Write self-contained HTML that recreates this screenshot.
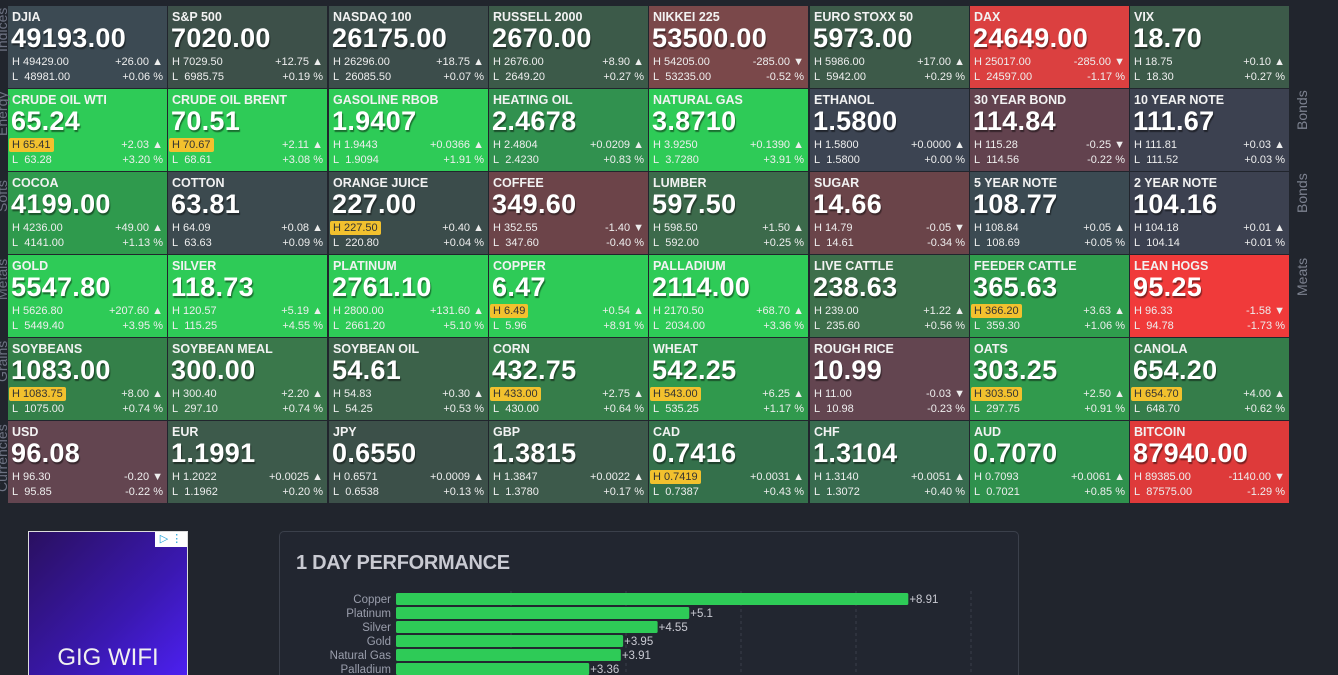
<!DOCTYPE html>
<html><head><meta charset="utf-8">
<style>
html,body{margin:0;padding:0;overflow:hidden;}
body{width:1338px;height:675px;background:#21252d;position:relative;overflow:hidden;font-family:"Liberation Sans",Arial,sans-serif;color:#fff;}
.tile{position:absolute;width:159px;height:82px;box-sizing:border-box;}
.nm{position:absolute;left:4px;top:4px;font-size:12.5px;font-weight:bold;color:#f2f2f2;white-space:nowrap;}
.pr{position:absolute;left:3px;top:19px;font-size:27px;line-height:27px;font-weight:bold;text-shadow:1px 2px 1px rgba(0,0,0,.45);letter-spacing:0.3px;}
.hl,.ll{position:absolute;left:4px;font-size:11px;color:#eee;}
.hl{top:50px}.ll{top:65px}
.hl.hi{background:#f2c12e;color:#333;left:1px;padding:0 3px;border-radius:2px;top:49px;line-height:14px}
.ch,.pc{position:absolute;right:4px;font-size:11px;color:#eee;}
.ch{top:50px}.pc{top:65px}
.lab{position:absolute;transform:rotate(-90deg);transform-origin:left top;color:#6d7282;font-size:14px;white-space:nowrap;}
</style></head><body>
<div id="grid"></div>
<div class="lab" style="left:-6px;top:52px">Indices</div>
<div class="lab" style="left:-6px;top:136px">Energy</div>
<div class="lab" style="left:-6px;top:212px">Softs</div>
<div class="lab" style="left:-6px;top:300px">Metals</div>
<div class="lab" style="left:-6px;top:382px">Grains</div>
<div class="lab" style="left:-6px;top:492px">Currencies</div>
<div class="lab" style="left:1294px;top:130px;color:#7d8290">Bonds</div>
<div class="lab" style="left:1294px;top:213px;color:#7d8290">Bonds</div>
<div class="lab" style="left:1294px;top:296px;color:#7d8290">Meats</div>

<div style="position:absolute;left:28px;top:531px;width:160px;height:144px;background:linear-gradient(135deg,#2a1060 0%,#3a18b0 60%,#4c20f0 100%);border:1px solid #ddd;border-bottom:none;box-sizing:border-box;">
 <div style="position:absolute;right:0;top:0;width:32px;height:15px;background:#fff;color:#1aa0d8;font-size:11px;text-align:center;line-height:15px">▷ ⋮</div>
 <div style="position:absolute;left:0;right:0;top:112px;text-align:center;font-size:24px;color:#f0f0f0">GIG WIFI</div>
</div>

<div style="position:absolute;left:279px;top:531px;width:740px;height:144px;border:1px solid #3b404b;border-bottom:none;border-radius:5px 5px 0 0;box-sizing:border-box;background:#222630;">
 <div style="position:absolute;left:16px;top:20px;font-size:20px;font-weight:bold;color:#c9cad2;letter-spacing:-0.3px">1 DAY PERFORMANCE</div>
</div>
<svg id="chart" width="1338" height="675" style="position:absolute;left:0;top:0"></svg>

<script>
const tiles=[
["DJIA","49193.00","49429.00","48981.00","+26.00","+0.06","#3c4a53",0],
["S&P 500","7020.00","7029.50","6985.75","+12.75","+0.19","#3d5049",0],
["NASDAQ 100","26175.00","26296.00","26085.50","+18.75","+0.07","#3c4d4b",0],
["RUSSELL 2000","2670.00","2676.00","2649.20","+8.90","+0.27","#3c5a49",0],
["NIKKEI 225","53500.00","54205.00","53235.00","-285.00","-0.52","#7a484a",0],
["EURO STOXX 50","5973.00","5986.00","5942.00","+17.00","+0.29","#3d5a49",0],
["DAX","24649.00","25017.00","24597.00","-285.00","-1.17","#db4040",0],
["VIX","18.70","18.75","18.30","+0.10","+0.27","#3c5a49",0],
["CRUDE OIL WTI","65.24","65.41","63.28","+2.03","+3.20","#2ecb57",1],
["CRUDE OIL BRENT","70.51","70.67","68.61","+2.11","+3.08","#2ecb57",1],
["GASOLINE RBOB","1.9407","1.9443","1.9094","+0.0366","+1.91","#2ecb57",0],
["HEATING OIL","2.4678","2.4804","2.4230","+0.0209","+0.83","#31914f",0],
["NATURAL GAS","3.8710","3.9250","3.7280","+0.1390","+3.91","#2ecb57",0],
["ETHANOL","1.5800","1.5800","1.5800","+0.0000","+0.00","#3c4452",0],
["30 YEAR BOND","114.84","115.28","114.56","-0.25","-0.22","#62424e",0],
["10 YEAR NOTE","111.67","111.81","111.52","+0.03","+0.03","#3c4150",0],
["COCOA","4199.00","4236.00","4141.00","+49.00","+1.13","#2f9a4d",0],
["COTTON","63.81","64.09","63.63","+0.08","+0.09","#3c4a4f",0],
["ORANGE JUICE","227.00","227.50","220.80","+0.40","+0.04","#3b4c4b",1],
["COFFEE","349.60","352.55","347.60","-1.40","-0.40","#6c4449",0],
["LUMBER","597.50","598.50","592.00","+1.50","+0.25","#3c6a4b",0],
["SUGAR","14.66","14.79","14.61","-0.05","-0.34","#6a4449",0],
["5 YEAR NOTE","108.77","108.84","108.69","+0.05","+0.05","#3b4a52",0],
["2 YEAR NOTE","104.16","104.18","104.14","+0.01","+0.01","#3c4150",0],
["GOLD","5547.80","5626.80","5449.40","+207.60","+3.95","#2ecb57",0],
["SILVER","118.73","120.57","115.25","+5.19","+4.55","#2ecb57",0],
["PLATINUM","2761.10","2800.00","2661.20","+131.60","+5.10","#2ecb57",0],
["COPPER","6.47","6.49","5.96","+0.54","+8.91","#2ecb57",1],
["PALLADIUM","2114.00","2170.50","2034.00","+68.70","+3.36","#2ecb57",0],
["LIVE CATTLE","238.63","239.00","235.60","+1.22","+0.56","#3d6f4b",0],
["FEEDER CATTLE","365.63","366.20","359.30","+3.63","+1.06","#2f9d4d",1],
["LEAN HOGS","95.25","96.33","94.78","-1.58","-1.73","#f03a3a",0],
["SOYBEANS","1083.00","1083.75","1075.00","+8.00","+0.74","#348049",1],
["SOYBEAN MEAL","300.00","300.40","297.10","+2.20","+0.74","#3a784b",0],
["SOYBEAN OIL","54.61","54.83","54.25","+0.30","+0.53","#3c624a",0],
["CORN","432.75","433.00","430.00","+2.75","+0.64","#367d4a",1],
["WHEAT","542.25","543.00","535.25","+6.25","+1.17","#30994d",1],
["ROUGH RICE","10.99","11.00","10.98","-0.03","-0.23","#634550",0],
["OATS","303.25","303.50","297.75","+2.50","+0.91","#319a4d",1],
["CANOLA","654.20","654.70","648.70","+4.00","+0.62","#357d4a",1],
["USD","96.08","96.30","95.85","-0.20","-0.22","#634550",0],
["EUR","1.1991","1.2022","1.1962","+0.0025","+0.20","#3d5a4b",0],
["JPY","0.6550","0.6571","0.6538","+0.0009","+0.13","#3c5049",0],
["GBP","1.3815","1.3847","1.3780","+0.0022","+0.17","#3d5a4b",0],
["CAD","0.7416","0.7419","0.7387","+0.0031","+0.43","#34704b",1],
["CHF","1.3104","1.3140","1.3072","+0.0051","+0.40","#386b4f",0],
["AUD","0.7070","0.7093","0.7021","+0.0061","+0.85","#2f914d",0],
["BITCOIN","87940.00","89385.00","87575.00","-1140.00","-1.29","#de3a3a",0]
];
const grid=document.getElementById('grid');
tiles.forEach((t,i)=>{
  const c=i%8,r=Math.floor(i/8);
  const d=document.createElement('div');
  d.className='tile';
  
  
  d.style.left=Math.round(8+c*160.3)+'px';d.style.top=(6+r*83)+'px';d.style.background=t[6];
  const up=t[4][0]!=='-';
  d.innerHTML='<div class="nm">'+t[0]+'</div><div class="pr">'+t[1]+'</div>'+
   '<div class="hl'+(t[7]?' hi':'')+'">H '+t[2]+'</div><div class="ll">L&nbsp; '+t[3]+'</div>'+
   '<div class="ch">'+t[4]+(up?' ▲':' ▼')+'</div><div class="pc">'+t[5]+' %</div>';
  grid.appendChild(d);
});

const cats=["Copper","Platinum","Silver","Gold","Natural Gas","Palladium"];
const vals=[8.91,5.1,4.55,3.95,3.91,3.36];
const labels=["+8.91","+5.1","+4.55","+3.95","+3.91","+3.36"];
const ticks=[0,2,4,6,8,10];
const svg=document.getElementById('chart');
const NS='http://www.w3.org/2000/svg';
const x=v=>396+v*57.5;
const y=i=>593+i*14;
ticks.forEach(t=>{if(t===0)return;
  const l=document.createElementNS(NS,'line');
  
  
  l.setAttribute('x1',x(t));l.setAttribute('x2',x(t));l.setAttribute('y1',591);l.setAttribute('y2',675);
  l.setAttribute('stroke','#3a3f4a');l.setAttribute('stroke-dasharray','3,3');svg.appendChild(l);});
cats.forEach((c,i)=>{
  const r=document.createElementNS(NS,'rect');
  
  
  r.setAttribute('x',x(0));r.setAttribute('y',y(i));r.setAttribute('width',x(vals[i])-x(0));r.setAttribute('height',12);
  r.setAttribute('rx',1.5);r.setAttribute('fill','#2ecb57');svg.appendChild(r);
  const t=document.createElementNS(NS,'text');
  
  
  t.setAttribute('x',391);t.setAttribute('y',y(i)+10);t.setAttribute('text-anchor','end');
  t.setAttribute('font-size','11.5');t.setAttribute('fill','#9a9eac');t.setAttribute('font-family','Liberation Sans, sans-serif');
  t.textContent=c;svg.appendChild(t);
  const v=document.createElementNS(NS,'text');
  
  
  v.setAttribute('x',x(vals[i])+1);v.setAttribute('y',y(i)+10);
  v.setAttribute('font-size','11.5');v.setAttribute('fill','#c9cad2');v.setAttribute('font-family','Liberation Sans, sans-serif');
  v.textContent=labels[i];svg.appendChild(v);
});
</script>
</body></html>
